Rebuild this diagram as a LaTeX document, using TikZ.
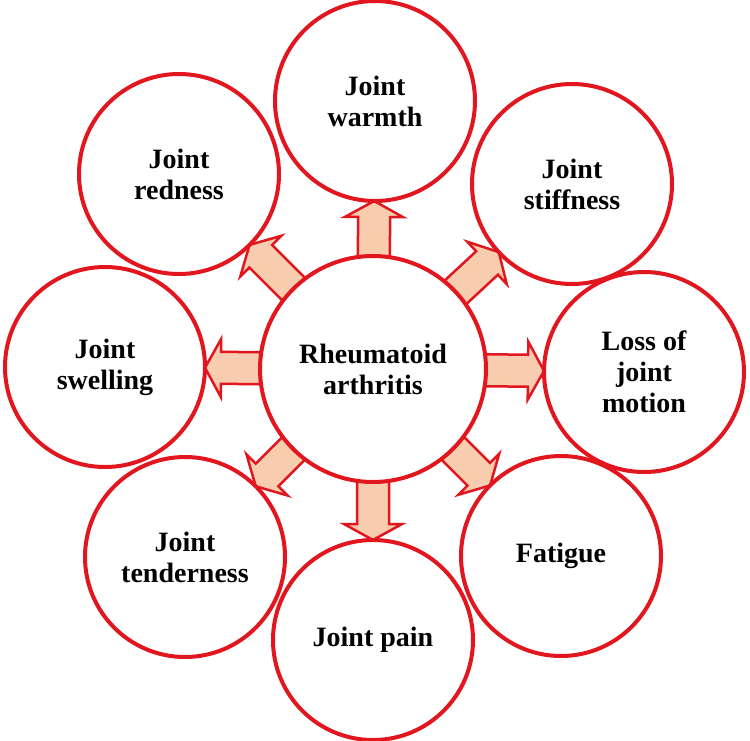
\documentclass[tikz,border=0pt]{standalone}
\usepackage{fontspec}
\setmainfont{Liberation Serif}
\usetikzlibrary{calc}
\pgfdeclarelayer{background}
\pgfsetlayers{background,main}
\definecolor{rared}{RGB}{226,22,30}
\definecolor{peach}{RGB}{248,204,174}
\tikzset{
  bubble/.style={circle, draw=rared, line width=4pt, fill=white, minimum size=200pt,
    inner sep=0pt, align=center, font=\bfseries\fontsize{28}{31}\selectfont},
  hubbubble/.style={bubble, minimum size=226pt},
  barrow/.style={draw=rared, fill=peach, line width=2.5pt, line join=miter},
}
\newcommand\blockarr[1]{%
  \draw[barrow] ($(ra)!100pt!(#1)!16pt!90:(#1)$)
    -- ($(#1)!116pt!(ra)!16pt!-90:(ra)$)
    -- ($(#1)!116pt!(ra)!29pt!-90:(ra)$)
    -- ($(#1)!100pt!(ra)$)
    -- ($(#1)!116pt!(ra)!29pt!90:(ra)$)
    -- ($(#1)!116pt!(ra)!16pt!90:(ra)$)
    -- ($(ra)!100pt!(#1)!16pt!-90:(#1)$) -- cycle;}
\begin{document}
\begin{tikzpicture}[x=1pt,y=-1pt]
  \useasboundingbox (0,0) rectangle (750,740);
  \node[hubbubble] (ra) at (373,369) {Rheumatoid\\arthritis};
  \node[bubble] (warm)   at (375,101) {Joint\\warmth};
  \node[bubble] (stiff)  at (572,184) {Joint\\stiffness};
  \node[bubble] (motion) at (644,372) {Loss of\\joint\\motion};
  \node[bubble] (fat)    at (561,556) {Fatigue};
  \node[bubble] (pain)   at (373,640) {Joint pain};
  \node[bubble] (tender) at (185,557) {Joint\\tenderness};
  \node[bubble] (swell)  at (105,367) {Joint\\swelling};
  \node[bubble] (red)    at (179,174) {Joint\\redness};
  \begin{pgfonlayer}{background}
    \foreach \n in {warm,stiff,motion,fat,pain,tender,swell,red}{\blockarr{\n}}
  \end{pgfonlayer}
\end{tikzpicture}
\end{document}
